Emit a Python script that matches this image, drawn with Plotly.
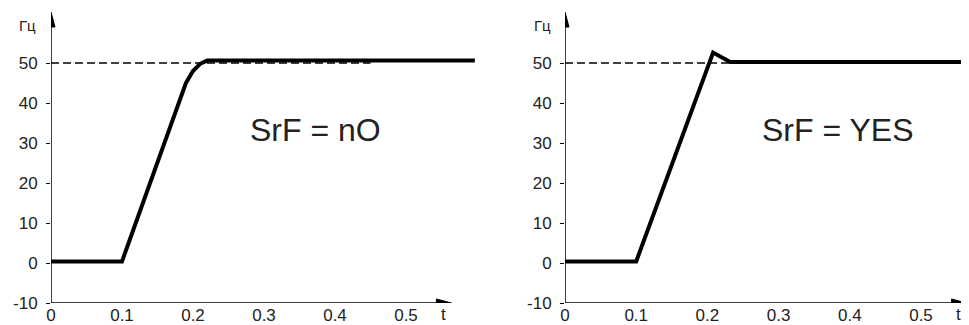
import plotly.graph_objects as go

# Data
t_no = [0, 0.1, 0.19, 0.2, 0.21, 0.22, 0.597]
f_no = [0.4, 0.4, 45, 48, 49.8, 50.6, 50.6]
t_yes = [0, 0.1, 0.208, 0.232, 0.569]
f_yes = [0.4, 0.4, 52.6, 50.25, 50.25]
ref_level = 50
ref_t = [0, 0.45]
y_ticks = [-10, 0, 10, 20, 30, 40, 50]
y_ticklabels = ["-10", "0", "10", "20", "30", "40", "50"]
x_ticks = [0, 0.1, 0.2, 0.3, 0.4, 0.5]
x_ticklabels = ["0", "0.1", "0.2", "0.3", "0.4", "0.5"]
labels = ["SrF = nO", "SrF = YES"]

OFF = 8  # default body margin of the html page
W, H = 969 - OFF, 325 - OFF
FONT = "Liberation Sans, Arial, sans-serif"
TXT = "#222222"


def fx(px):
    return (px - OFF) / W


def fy(py):
    return (H - (py - OFF)) / H


fig = go.Figure()

panels = [
    dict(x0=51, x1=475, xmax=(475 - 51) / 710, t=t_no, f=f_no, lab=labels[0], xa="x", ya="y", labx=315),
    dict(x0=565, x1=969, xmax=(969 - 565) / 712, t=t_yes, f=f_yes, lab=labels[1], xa="x2", ya="y2", labx=837),
]

ybot_px, ytop_px = 303, 8
ymin, ymax = -10, (263 - ytop_px) / 4
shapes = []
annotations = []
for i, p in enumerate(panels):
    sfx = "" if i == 0 else "2"
    xa, ya = p["xa"], p["ya"]
    fig.add_trace(go.Scatter(x=ref_t, y=[ref_level, ref_level], mode="lines",
                             line=dict(color="black", width=1.3, dash="8px,4px"),
                             xaxis=xa, yaxis=ya, showlegend=False, hoverinfo="skip"))
    fig.add_trace(go.Scatter(x=p["t"], y=p["f"], mode="lines",
                             line=dict(color="black", width=4),
                             xaxis=xa, yaxis=ya, showlegend=False))
    xr = p["xmax"]
    px_x = 1 / 710.0
    px_y = 0.25
    shapes.append(dict(type="line", xref=xa, yref=ya, x0=0, x1=0.555, y0=-10, y1=-10,
                       line=dict(color="black", width=1.5)))
    shapes.append(dict(type="line", xref=xa, yref=ya, x0=0, x1=0, y0=-10, y1=60,
                       line=dict(color="black", width=1.5)))
    xt = 0.564
    shapes.append(dict(type="path", xref=xa, yref=ya,
                       path=f"M {xt} -10 L {xt - 15*px_x} {-10 + 4*px_y} L {xt - 15*px_x} {-10 - 4*px_y} Z",
                       fillcolor="black", line=dict(color="black", width=1)))
    yt = 62.75
    shapes.append(dict(type="path", xref=xa, yref=ya,
                       path=f"M 0 {yt} L {-4*px_x} {yt - 15*px_y} L {4*px_x} {yt - 15*px_y} Z",
                       fillcolor="black", line=dict(color="black", width=1)))
    dom_x = [fx(p["x0"]), min(1, fx(p["x1"]))]
    dom_y = [fy(ybot_px), fy(ytop_px)]
    fig.layout["xaxis" + sfx] = dict(domain=dom_x, range=[0, xr], showline=False, showgrid=False,
                                     zeroline=False, tickvals=x_ticks, ticktext=x_ticklabels,
                                     ticks="",
                                     tickfont=dict(family=FONT, size=17, color=TXT),
                                     anchor=ya, automargin=False)
    fig.layout["yaxis" + sfx] = dict(domain=dom_y, range=[ymin, ymax], showline=False, showgrid=False,
                                     zeroline=False, tickvals=y_ticks, ticktext=y_ticklabels,
                                     ticks="outside", ticklen=4, ticklabelstandoff=5,
                                     tickcolor="black", tickfont=dict(family=FONT, size=17, color=TXT),
                                     anchor=xa, automargin=False)
    annotations.append(dict(text=p["lab"], x=fx(p["labx"]), y=fy(130), xref="paper", yref="paper",
                            xanchor="center", yanchor="middle",
                            showarrow=False, font=dict(family=FONT, size=32, color=TXT)))
    gx = 27 if i == 0 else 542
    annotations.append(dict(text="Гц", x=fx(gx), y=fy(25), xref="paper", yref="paper",
                            xanchor="center", yanchor="middle",
                            showarrow=False, font=dict(family=FONT, size=15, color=TXT)))
    tx = 443 if i == 0 else 958
    annotations.append(dict(text="t", x=fx(tx), y=fy(314), xref="paper", yref="paper",
                            xanchor="center", yanchor="middle",
                            showarrow=False, font=dict(family=FONT, size=17, color=TXT)))

fig.update_layout(width=W, height=H, margin=dict(l=0, r=0, t=0, b=0),
                  paper_bgcolor="white", plot_bgcolor="white",
                  shapes=shapes, annotations=annotations, showlegend=False)
fig.write_html("out.html")
